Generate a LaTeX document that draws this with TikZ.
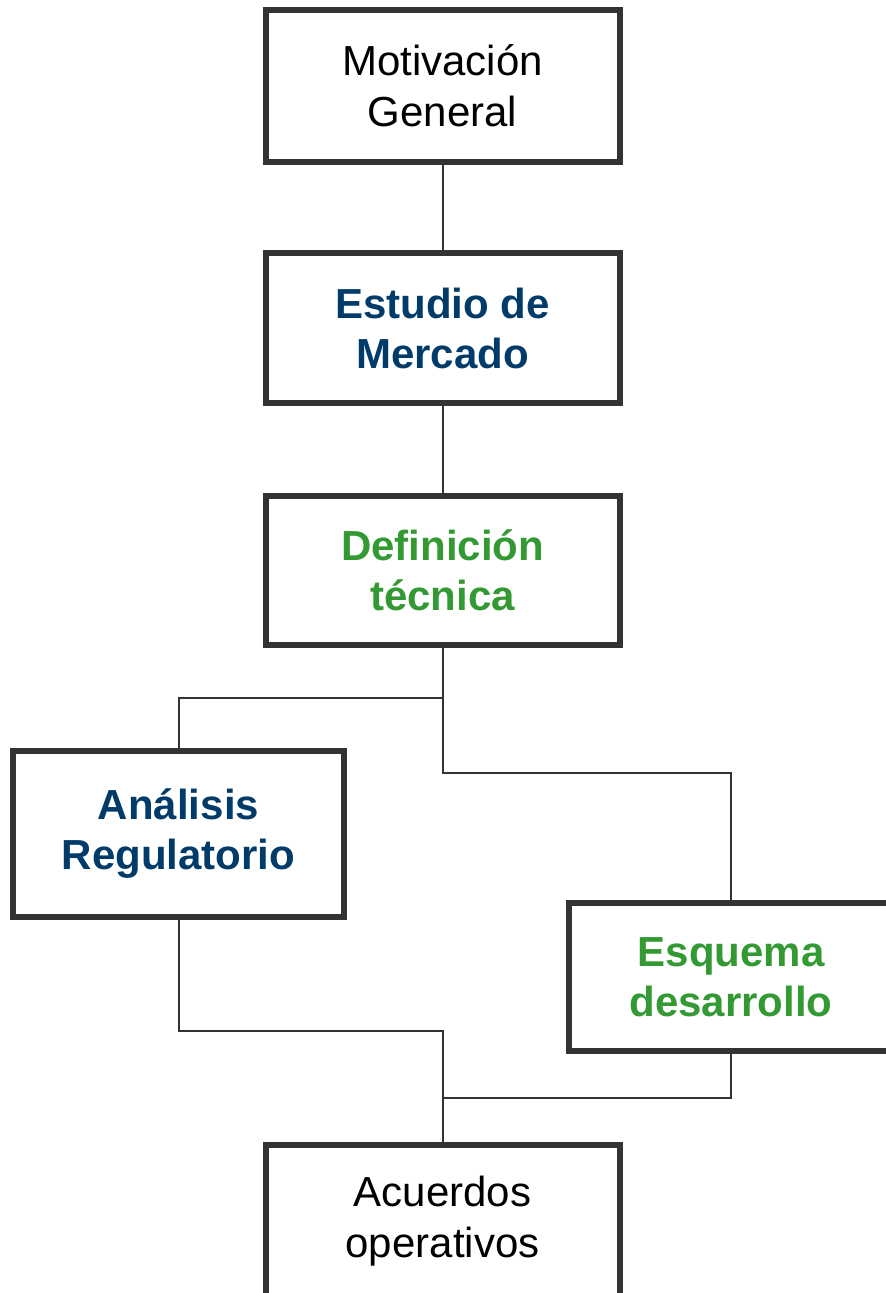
\documentclass[tikz,border=0pt]{standalone}
\usepackage{fontspec}
\setmainfont{Liberation Sans}
\definecolor{bordergray}{RGB}{51,51,51}
\definecolor{titleblue}{RGB}{0,59,105}
\definecolor{titlegreen}{RGB}{51,153,51}
\tikzset{
  box/.style={draw=bordergray, line width=6pt, fill=white, rectangle, inner sep=0pt, outer sep=0pt,
    align=center, font=\fontsize{42}{51}\selectfont},
  bluetext/.style={text=titleblue, font=\fontsize{42}{50}\selectfont\bfseries},
  greentext/.style={text=titlegreen, font=\fontsize{42}{50}\selectfont\bfseries},
  link/.style={draw=bordergray, line width=2pt}
}
\begin{document}
\begin{tikzpicture}[x=1pt,y=-1pt]
\useasboundingbox (0,0) rectangle (886,1293);
\clip (0,0) rectangle (886,1293);
\fill[white] (0,0) rectangle (886,1293);
% connectors (drawn first, boxes on top)
\coordinate (j1) at (442.5,698);
\coordinate (j2) at (442.5,773);
\coordinate (j3) at (442.5,1031);
\coordinate (j4) at (442.5,1098);
\node[box, minimum width=354pt, minimum height=152pt] (m) at (442.5,86) {Motivación\\General};
\node[box, bluetext, minimum width=354pt, minimum height=150pt] (e) at (442.5,328) {Estudio de\\Mercado};
\node[box, greentext, minimum width=354pt, minimum height=149pt] (d) at (442.5,570.5) {Definición\\técnica};
\node[box, bluetext, minimum width=331pt, minimum height=166pt] (a) at (178.5,834) {Análisis\\Regulatorio};
\node[box, greentext, minimum width=324pt, minimum height=148pt] (s) at (731,977) {Esquema\\desarrollo};
\node[box, minimum width=354pt, minimum height=152pt] (o) at (442.5,1221) {Acuerdos\\operativos};
\draw[link] (m.south) -- (e.north);
\draw[link] (e.south) -- (d.north);
\draw[link] (d.south) -- (j1) -| (a.north);
\draw[link] (j1) -- (j2) -| (s.north);
\draw[link] (a.south) |- (j3) -- (o.north);
\draw[link] (s.south) |- (j4);
\end{tikzpicture}
\end{document}
